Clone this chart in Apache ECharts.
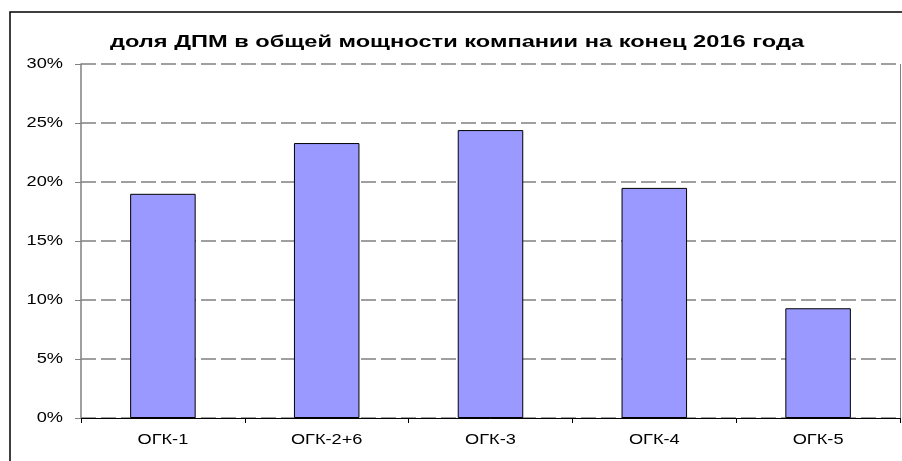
<!DOCTYPE html>
<html>
<head>
<meta charset="utf-8">
<script src="https://cdn.jsdelivr.net/npm/echarts@6/dist/echarts.min.js"></script>
<style>
  html, body { margin: 0; padding: 0; background: #fff; }
  .charts { width: 902px; height: 461px; }
</style>
</head>
<body>
<div class="charts"></div>
<script>
var categories = ['ОГК-1', 'ОГК-2+6', 'ОГК-3', 'ОГК-4', 'ОГК-5'];
var shares = [0.190, 0.233, 0.244, 0.195, 0.093];
var yTicks = [0, 0.05, 0.10, 0.15, 0.20, 0.25, 0.30];
var titleText = 'доля ДПМ в общей мощности компании на конец 2016 года';

var FONT = 'Liberation Sans, Arial, sans-serif';
// текст в исходнике растянут по горизонтали
var STRETCH = 1.3;

var charts = document.querySelector('.charts');
var myChart = echarts.init(charts, null, {renderer: 'canvas'});

function pct(v) { return Math.round(v * 100) + '%'; }

var option = {
    animation: false,
    backgroundColor: '#fff',
    textStyle: {fontFamily: FONT},
    grid: {left: 81, right: 2, top: 64, bottom: 43, containLabel: false},
    xAxis: {
        type: 'category',
        data: categories,
        axisLine: {lineStyle: {color: '#000', width: 1}},
        axisTick: {show: true, alignWithLabel: false, length: 5, lineStyle: {color: '#000'}},
        axisLabel: {show: false}
    },
    yAxis: {
        type: 'value',
        min: yTicks[0],
        max: yTicks[yTicks.length - 1],
        interval: 0.05,
        axisLine: {show: true, lineStyle: {color: '#808080', width: 1.5}},
        axisTick: {show: true, inside: false, length: 6, lineStyle: {color: '#808080'}},
        axisLabel: {show: false},
        splitLine: {show: true, lineStyle: {color: '#808080', type: [15, 5], width: 1.5}}
    },
    series: [{
        type: 'bar',
        data: shares,
        barWidth: '40%',
        itemStyle: {color: '#9999FF', borderColor: '#000', borderWidth: 1}
    }]
};

myChart.setOption(option);

// подписи осей и заголовок — растянутый текст, позиции берутся из осей
var g = [
    {
        type: 'rect',
        shape: {x: 10, y: 12, width: 1000, height: 1000},
        style: {fill: null, stroke: '#000', lineWidth: 1.5},
        silent: true
    },
    {
        type: 'line',
        shape: {x1: 900.5, y1: 64, x2: 900.5, y2: 418},
        style: {stroke: '#808080', lineWidth: 1},
        silent: true
    },
    {
        type: 'text',
        x: 457, y: 42,
        scaleX: 1.39,
        style: {text: titleText, x: 0, y: 0, align: 'center', verticalAlign: 'middle',
                font: 'bold 17px ' + FONT, fill: '#000'},
        silent: true
    }
];

yTicks.forEach(function (v) {
    var py = myChart.convertToPixel({yAxisIndex: 0}, v);
    g.push({
        type: 'text',
        x: 63, y: py,
        scaleX: STRETCH,
        style: {text: pct(v), x: 0, y: 0, align: 'right', verticalAlign: 'middle',
                font: '14px ' + FONT, fill: '#000'},
        silent: true
    });
});

categories.forEach(function (c) {
    var px = myChart.convertToPixel({xAxisIndex: 0}, c);
    g.push({
        type: 'text',
        x: px, y: 440,
        scaleX: STRETCH,
        style: {text: c, x: 0, y: 0, align: 'center', verticalAlign: 'middle',
                font: '14px ' + FONT, fill: '#000'},
        silent: true
    });
});

myChart.setOption({graphic: g});
</script>
</body>
</html>
